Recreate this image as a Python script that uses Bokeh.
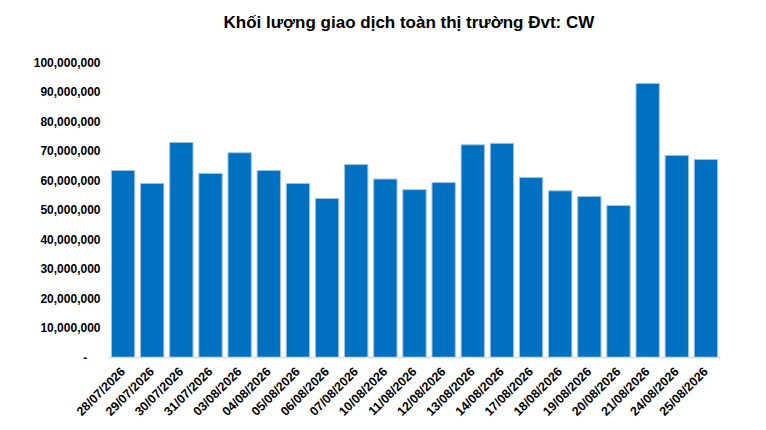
import math
from bokeh.plotting import figure
from bokeh.models import FactorRange, Range1d, FixedTicker, CustomJSTickFormatter, ColumnDataSource, Title
from bokeh.embed import file_html
from bokeh.resources import INLINE

dates = ["28/07/2026", "29/07/2026", "30/07/2026", "31/07/2026", "03/08/2026",
         "04/08/2026", "05/08/2026", "06/08/2026", "07/08/2026", "10/08/2026",
         "11/08/2026", "12/08/2026", "13/08/2026", "14/08/2026", "17/08/2026",
         "18/08/2026", "19/08/2026", "20/08/2026", "21/08/2026", "24/08/2026",
         "25/08/2026"]
volumes = [63400000, 59000000, 72900000, 62400000, 69400000,
           63400000, 59000000, 53900000, 65400000, 60500000,
           56900000, 59300000, 72100000, 72600000, 61000000,
           56500000, 54600000, 51500000, 92900000, 68500000,
           67100000]
y_ticks = [0, 10000000, 20000000, 30000000, 40000000, 50000000,
           60000000, 70000000, 80000000, 90000000, 100000000]
title_text = "Khối lượng giao dịch toàn thị trường Đvt: CW"

src = ColumnDataSource(dict(x=dates, y=volumes))

p = figure(width=750, height=428, output_backend="svg", toolbar_location=None,
           x_range=FactorRange(factors=dates, range_padding=0),
           y_range=Range1d(0, 100000000),
           min_border_left=108, min_border_right=30, min_border_top=62, min_border_bottom=71)

p.title.text = title_text
p.title.align = "left"
p.title.offset = 115
p.title.text_font = "Liberation Sans"
p.title.text_font_size = "17px"
p.title.text_font_style = "bold"
p.title.text_color = "#000000"
p.title.standoff = 0

# spacer between frame and title
spacer = Title(text=" ", text_font_size="1px", standoff=28)
p.add_layout(spacer, "above")

p.vbar(x="x", top="y", width=0.8, source=src, fill_color="#0070C0",
       line_color="#9DC3E6", line_width=1)

p.xgrid.grid_line_color = None
p.ygrid.grid_line_color = None
p.outline_line_color = None
p.background_fill_color = "white"
p.border_fill_color = "white"

ya = p.yaxis[0]
ya.ticker = FixedTicker(ticks=y_ticks)
ya.formatter = CustomJSTickFormatter(code="return tick == 0 ? '-\u00a0\u00a0\u00a0\u00a0' : tick.toLocaleString('en-US');")
ya.axis_line_color = None
ya.major_tick_line_color = None
ya.minor_tick_line_color = None
ya.major_tick_out = 0
ya.major_tick_in = 0
ya.major_label_standoff = 8
ya.major_label_text_font = "Liberation Sans"
ya.major_label_text_font_size = "12px"
ya.major_label_text_font_style = "bold"
ya.major_label_text_color = "#000000"

xa = p.xaxis[0]
xa.axis_line_color = "#D9D9D9"
xa.axis_line_width = 1.5
xa.major_tick_line_color = None
xa.minor_tick_line_color = None
xa.major_tick_out = 0
xa.major_tick_in = 0
xa.major_label_orientation = math.pi / 4
xa.major_label_standoff = 12
xa.major_label_text_font = "Liberation Sans"
xa.major_label_text_font_size = "12.5px"
xa.major_label_text_font_style = "bold"
xa.major_label_text_color = "#000000"

open("out.html", "w").write(file_html(p, INLINE))
